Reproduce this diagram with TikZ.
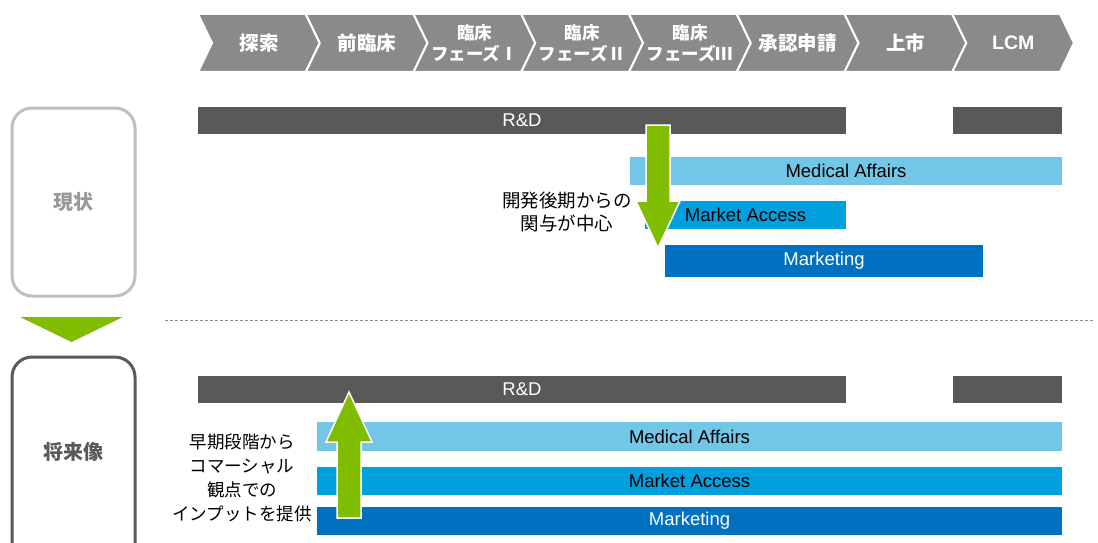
\documentclass[tikz,border=0pt]{standalone}
\usepackage{fontspec}
\setmainfont{Liberation Sans}
\newfontfamily\jp{Noto Sans CJK JP}
\definecolor{chev}{HTML}{8A8A8A}
\definecolor{dkbar}{HTML}{595959}
\definecolor{ltblue}{HTML}{72C6E6}
\definecolor{mdblue}{HTML}{00A0DE}
\definecolor{dkblue}{HTML}{0070C0}
\definecolor{grn}{HTML}{80BC00}
\definecolor{curbox}{HTML}{BFBFBF}
\definecolor{futbox}{HTML}{595959}
\definecolor{dashc}{HTML}{8C8C8C}
\begin{document}
\begin{tikzpicture}[x=1pt,y=-1pt,
  chevshape/.style={fill=chev,draw=white,line width=2pt,line join=miter},
  chevtext/.style={text=white,font=\jp\bfseries\fontsize{19.5}{21}\selectfont,align=center,inner sep=0pt},
  chevtwo/.style={text=white,font=\jp\bfseries\fontsize{17.5}{21}\selectfont,align=center,inner sep=0pt},
  bar/.style={inner sep=0pt,font=\fontsize{18.5}{20}\selectfont},
  blockarrow/.style={fill=grn,draw=white,line width=1.5pt,line join=miter},
  phasebox/.style={rounded corners=20pt,line width=3pt},
  phaselabel/.style={font=\jp\bfseries\fontsize{20}{22}\selectfont},
  note/.style={font=\jp\fontsize{17.5}{24}\selectfont,align=center,inner sep=0pt}]
\useasboundingbox (0,0) rectangle (1098,543);
\clip (0,0) rectangle (1098,543);
% chevrons
\foreach \i/\t/\s in {0/探索/chevtext,1/前臨床/chevtext,2/{臨床\\フェーズⅠ}/chevtwo,3/{臨床\\フェーズⅡ}/chevtwo,4/{臨床\\フェーズⅢ}/chevtwo,5/承認申請/chevtext,6/上市/chevtext,7/{\fontspec{Liberation Sans}\bfseries LCM}/chevtext}{
  \pgfmathsetmacro{\xa}{198+107.75*\i}
  \pgfmathsetmacro{\xb}{\xa+107.75}
  \fill[chevshape] (\xa,14) -- (\xb,14) -- (\xb+14,43) -- (\xb,72) -- (\xa,72) -- (\xa+14,43) -- cycle;
  \node[\s] (chev\i) at (\xa+61,43) {\t};
}
% left phase boxes
\draw[phasebox,draw=curbox] (12,108) rectangle (135,296);
\node[phaselabel,text=curbox!80!black] (now) at (73,202) {現状};
\fill[grn] (20,317) -- (123,317) -- (71.5,342) -- cycle;
\draw[phasebox,draw=futbox] (12,357) rectangle (135,565);
\node[phaselabel,text=futbox] (future) at (73,452) {将来像};
% separator
\draw[dashc,dash pattern=on 3pt off 2pt,line width=0.8pt] (165,320) -- (1093,320);
% top bars
\node[bar,fill=dkbar,text=white,minimum width=648pt,minimum height=27pt] (rd1) at (522,120.5) {R\&D};
\node[bar,fill=dkbar,minimum width=109pt,minimum height=27pt] (rd1b) at (1007.5,120.5) {};
\node[bar,fill=ltblue,minimum width=432pt,minimum height=28pt] (ma1) at (846,171) {Medical Affairs};
\node[bar,fill=mdblue,minimum width=201pt,minimum height=28pt] (mka1) at (745.5,215) {Market Access};
\node[bar,fill=dkblue,text=white,minimum width=318pt,minimum height=32pt] (mk1) at (824,261) {Marketing};
% bottom bars
\node[bar,fill=dkbar,text=white,minimum width=648pt,minimum height=27pt] (rd2) at (522,389.5) {R\&D};
\node[bar,fill=dkbar,minimum width=109pt,minimum height=27pt] (rd2b) at (1007.5,389.5) {};
\node[bar,fill=ltblue,minimum width=745pt,minimum height=29pt] (ma2) at (689.5,436.5) {Medical Affairs};
\node[bar,fill=mdblue,minimum width=745pt,minimum height=28pt] (mka2) at (689.5,481) {Market Access};
\node[bar,fill=dkblue,text=white,minimum width=745pt,minimum height=28pt] (mk2) at (689.5,521) {Marketing};
% arrows
\fill[blockarrow] (646,125) -- (670,125) -- (670,201) -- (680,201) -- (658,248) -- (636,201) -- (646,201) -- cycle;
\fill[blockarrow] (337,518) -- (361,518) -- (361,442) -- (372,442) -- (349,392) -- (326,442) -- (337,442) -- cycle;
% notes
\node[note,font=\jp\fontsize{18.5}{23}\selectfont] (note1) at (567,212) {開発後期からの\\関与が中心};
\node[note] (note2) at (242,478) {早期段階から\\コマーシャル\\観点での\\インプットを提供};
\end{tikzpicture}
\end{document}
